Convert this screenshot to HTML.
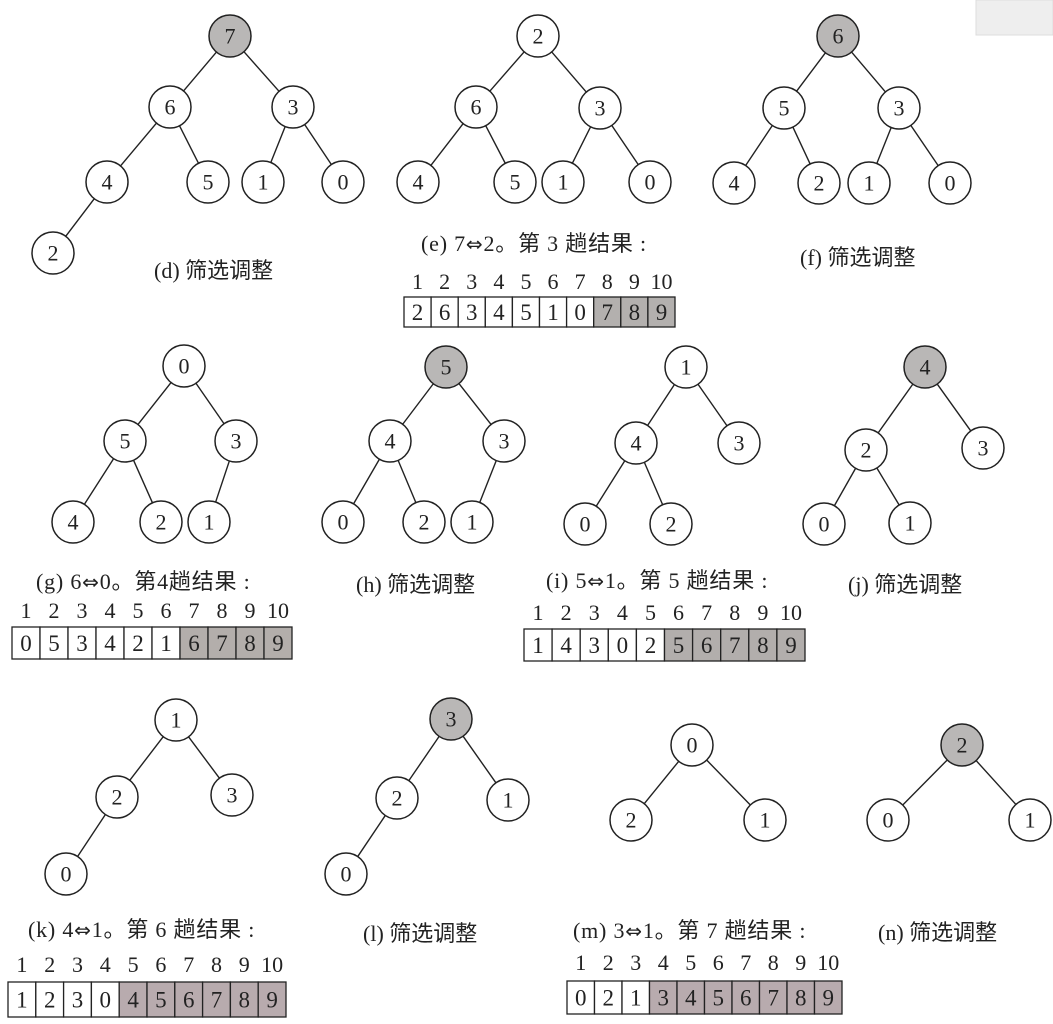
<!DOCTYPE html>
<html><head><meta charset="utf-8">
<style>
html,body{margin:0;padding:0;background:#fff;}
svg{display:block;}
text{font-family:"Liberation Serif","Noto Serif CJK SC",serif;fill:#222;}
.cjk{font-family:"Liberation Serif","Noto Sans CJK SC",sans-serif;}
.arr{font-family:"DejaVu Sans",sans-serif;}
</style></head>
<body>
<svg id="fig" width="1053" height="1024" viewBox="0 0 1053 1024" xmlns="http://www.w3.org/2000/svg">
<rect x="976" y="0" width="77" height="35" fill="#eeeeee" stroke="#dddddd"/>
</svg>
<script>
// Tree values (heap order) and node layout
const treeD = {vals:[7,6,3,4,5,1,0,2], hi:true, pos:[[230,36],[170,107],[293,107],[107,182],[208,182],[263,182],[343,182],[53,253]]};
const treeE = {vals:[2,6,3,4,5,1,0], hi:false, pos:[[538,36],[476,107],[600,108],[418,182],[515,182],[563,182],[650,182]]};
const treeF = {vals:[6,5,3,4,2,1,0], hi:true, pos:[[838,36],[784,108],[899,108],[734,183],[819,183],[869,183],[950,183]]};
const treeG = {vals:[0,5,3,4,2,1], hi:false, pos:[[184,366],[125,441],[236,441],[73,522],[161,522],[209,522]]};
const treeH = {vals:[5,4,3,0,2,1], hi:true, pos:[[446,367],[390,441],[504,441],[343,522],[424,522],[472,522]]};
const treeI = {vals:[1,4,3,0,2], hi:false, pos:[[686,367],[636,443],[739,443],[585,524],[671,524]]};
const treeJ = {vals:[4,2,3,0,1], hi:true, pos:[[925,367],[866,450],[983,448],[824,524],[910,523]]};
const treeK = {vals:[1,2,3,0], hi:false, pos:[[176,720],[117,797],[232,795],[66,874]]};
const treeL = {vals:[3,2,1,0], hi:true, pos:[[451,719],[397,798],[508,800],[346,874]]};
const treeM = {vals:[0,2,1], hi:false, pos:[[692,745],[631,820],[765,820]]};
const treeN = {vals:[2,0,1], hi:true, pos:[[962,745],[888,820],[1030,820]]};
const trees = [treeD,treeE,treeF,treeG,treeH,treeI,treeJ,treeK,treeL,treeM,treeN];
const treeNames = ['d','e','f','g','h','i','j','k','l','m','n'];

// Array panels
const arrE = [2,6,3,4,5,1,0,7,8,9];
const arrG = [0,5,3,4,2,1,6,7,8,9];
const arrI = [1,4,3,0,2,5,6,7,8,9];
const arrK = [1,2,3,0,4,5,6,7,8,9];
const arrM = [0,2,1,3,4,5,6,7,8,9];
const sortedFrom = [7,6,5,4,3];
const indexLabels = ['1','2','3','4','5','6','7','8','9','10'];
const panels = [
 {name:'e',vals:arrE,x:404,top:297,w:27.1,h:30,idxY:289,fill:'#b3b0ae'},
 {name:'g',vals:arrG,x:12,top:627,w:28,h:32,idxY:618,fill:'#b3aeab'},
 {name:'i',vals:arrI,x:524,top:629,w:28.1,h:32,idxY:620,fill:'#b2aeac'},
 {name:'k',vals:arrK,x:8,top:982,w:27.8,h:35,idxY:972,fill:'#b8abae'},
 {name:'m',vals:arrM,x:567,top:981,w:27.5,h:33,idxY:970,fill:'#b8abae'}
];
// Captions: [prefix, swapped-a, swapped-b, suffix] or plain
const captions = [
 {n:'d',t:'(d)  筛选调整',x:154,y:278},
 {n:'e',p:'(e) 7',q:'2。第 3 趟结果 :',x:421,y:251},
 {n:'f',t:'(f)  筛选调整',x:800,y:265},
 {n:'g',p:'(g) 6',q:'0。第4趟结果 :',x:36,y:589},
 {n:'h',t:'(h)  筛选调整',x:356,y:592},
 {n:'i',p:'(i) 5',q:'1。第 5 趟结果 :',x:546,y:588},
 {n:'j',t:'(j)  筛选调整',x:848,y:592},
 {n:'k',p:'(k) 4',q:'1。第 6 趟结果 :',x:28,y:937},
 {n:'l',t:'(l)  筛选调整',x:363,y:941},
 {n:'m',p:'(m) 3',q:'1。第 7 趟结果 :',x:573,y:938},
 {n:'n',t:'(n)  筛选调整',x:878,y:940}
];

const NS='http://www.w3.org/2000/svg';
const svg=document.getElementById('fig');
function mk(tag,attrs,parent){const e=document.createElementNS(NS,tag);for(const k in attrs)e.setAttribute(k,attrs[k]);(parent||svg).appendChild(e);return e;}
const R=21;
trees.forEach((t,ti)=>{
  const g=mk('g',{});
  
  
  for(let i=1;i<t.vals.length;i++){
    const p=t.pos[i], q=t.pos[Math.floor((i-1)/2)];
    const dx=p[0]-q[0], dy=p[1]-q[1], L=Math.hypot(dx,dy);
    const ln=mk('line',{x1:q[0]+dx/L*R,y1:q[1]+dy/L*R,x2:p[0]-dx/L*R,y2:p[1]-dy/L*R,stroke:'#222','stroke-width':1.4},g);
    
    
  }
  t.vals.forEach((v,i)=>{
    const p=t.pos[i];
    const c=mk('circle',{cx:p[0],cy:p[1],r:R,fill:(i===0&&t.hi)?'#b9b7b6':'#fff',stroke:'#222','stroke-width':1.5},g);
    
    
    const tx=mk('text',{x:p[0],y:p[1]+7.5,'text-anchor':'middle','font-size':22},g);
    tx.textContent=v;
    
    
  });
});
panels.forEach((p,pi)=>{
  const g=mk('g',{});
  
  
  p.vals.forEach((v,i)=>{
    const x=p.x+i*p.w;
    const r=mk('rect',{x:x,y:p.top,width:p.w,height:p.h,fill:i>=sortedFrom[pi]?p.fill:'#fff',stroke:'#222','stroke-width':1.3},g);
    
    
    const tx=mk('text',{x:x+p.w/2,y:p.top+p.h/2+8,'text-anchor':'middle','font-size':23},g);
    tx.textContent=v;
    
    
    const ix=mk('text',{x:x+p.w/2,y:p.idxY,'text-anchor':'middle','font-size':22},g);
    ix.textContent=indexLabels[i];
    
    
  });
});
captions.forEach(c=>{
  const tx=mk('text',{x:c.x,y:c.y,'font-size':22,'class':'cjk','letter-spacing':c.t?0:0.8});
  if(c.t){tx.textContent=c.t;}
  else{
    const a=mk('tspan',{},tx);a.textContent=c.p;
    const b=mk('tspan',{'class':'arr','font-size':20},tx);b.textContent='⇔';
    const d=mk('tspan',{},tx);d.textContent=c.q;
  }
  
  
});
</script>
</body></html>
